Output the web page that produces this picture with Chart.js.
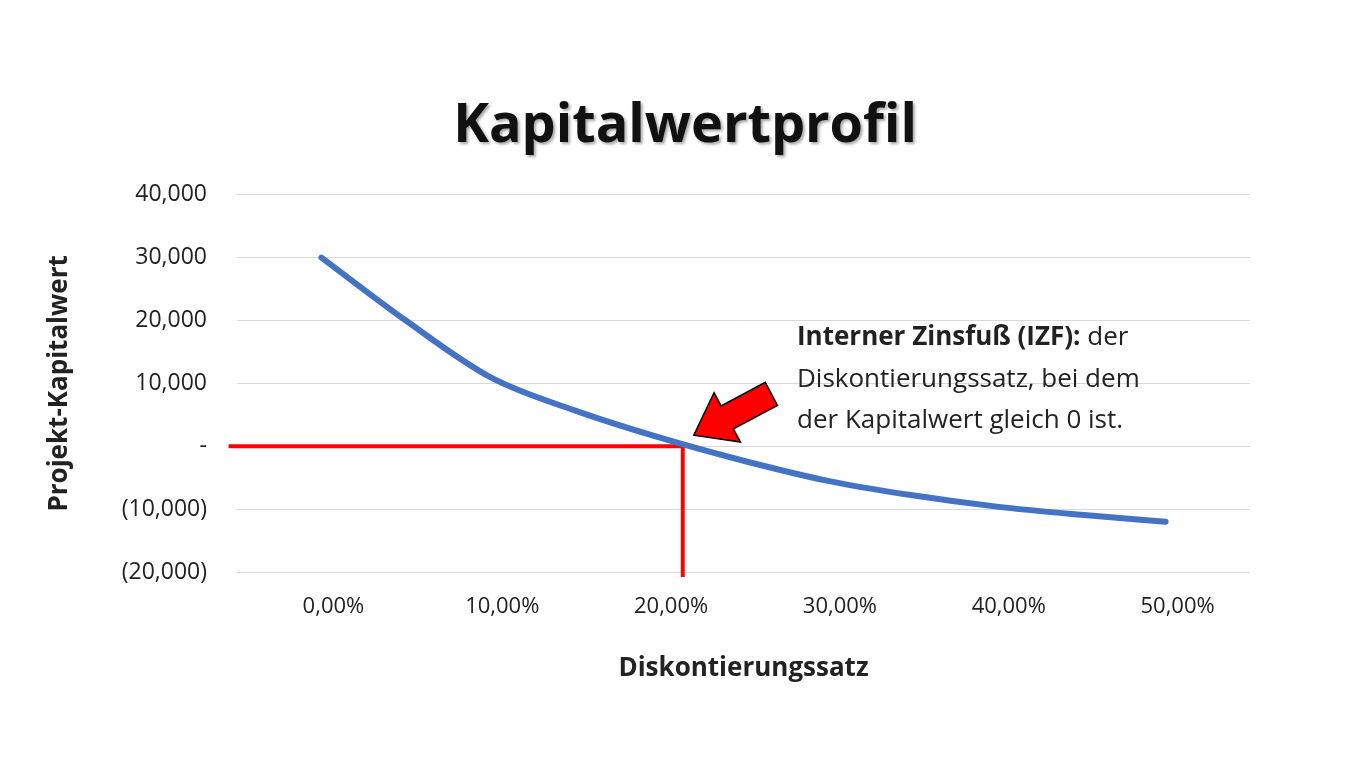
<!DOCTYPE html>
<html><head><meta charset="utf-8">
<script src="https://cdn.jsdelivr.net/npm/chart.js@4"></script>
<style>html,body{margin:0;padding:0;background:#fff}#w{width:1365px;height:768px}</style>
</head><body><div id="w"><canvas id="c"></canvas></div>
<script>
const rates = [0,5,10,15,20,25,30,35,40,45,50];
const npv = [30000,20000,11000,5700,1400,-2300,-5500,-7800,-9600,-10900,-12000];
const izf = 21.4;
const xTicks = [0,10,20,30,40,50];
const titleText = 'Kapitalwertprofil';
const annotationLines = [["Interner Zinsfuß (IZF):"," der"],["","Diskontierungssatz, bei dem"],["","der Kapitalwert gleich 0 ist."]];

const F = "'Open Sans','Noto Sans',sans-serif";
const overlay = {
  id:'overlay',
  afterDraw(ch){
    const x = ch.scales.x, y = ch.scales.y, c = ch.ctx;
    const tx = x.getPixelForValue(izf)+11, ty = y.getPixelForValue(0)-11;
    c.save();
    c.translate(tx,ty);
    c.rotate(Math.atan2(-40,75));
    c.beginPath();
    c.moveTo(0,0);c.lineTo(38,-28);c.lineTo(38,-13);c.lineTo(88,-13);c.lineTo(88,13);c.lineTo(38,13);c.lineTo(38,28);c.closePath();
    c.fillStyle='#ff0000';c.fill();c.lineWidth=1.5;c.strokeStyle='#000';c.stroke();
    c.restore();
    c.save();
    c.fillStyle='#222';c.textBaseline='middle';
    const ys=[338,380,421];
    annotationLines.forEach((l,i)=>{
      c.font="bold 26px "+F;c.fillText(l[0],797,ys[i]);
      const w=c.measureText(l[0]).width;
      c.font="26px "+F;c.fillText(l[1],797+w,ys[i]);
    });
    c.font="bold 54px "+F;c.textAlign='center';c.fillStyle='#111';
    c.shadowColor='rgba(0,0,0,0.35)';c.shadowBlur=3;c.shadowOffsetX=2;c.shadowOffsetY=2;
    c.fillText(titleText,685,127);
    c.restore();
  }
};
new Chart(document.getElementById('c'),{
  type:'line',
  data:{datasets:[
    {data:rates.map((r,i)=>({x:r,y:npv[i]})),borderColor:'#4472c4',borderWidth:6,cubicInterpolationMode:'monotone',pointRadius:0,borderCapStyle:'round'},
    {data:[{x:-5.5,y:0},{x:izf,y:0},{x:izf,y:-20800}],borderColor:'#ff0000',borderWidth:4,pointRadius:0,tension:0}
  ]},
  options:{responsive:true,maintainAspectRatio:false,animation:false,clip:false,
    layout:{padding:{left:40,right:115,top:0,bottom:80}},
    plugins:{legend:{display:false},tooltip:{enabled:false},
      title:{display:true,text:titleText,color:'rgba(0,0,0,0)',font:{family:F,size:54,weight:'bold'},padding:{top:95,bottom:35}}},
    scales:{
      x:{type:'linear',min:-5,max:55,grid:{display:false},border:{display:false},
        afterBuildTicks(a){a.ticks=xTicks.map(v=>({value:v}));},
        afterFit(a){a.height=116;},
        ticks:{color:'#222',font:{family:F,size:22},padding:14,labelOffset:12,callback:v=>v.toFixed(2).replace('.',',')+'%'},
        title:{display:true,text:'Diskontierungssatz',color:'#222',font:{family:F,size:26,weight:'bold'},padding:{top:10}}},
      y:{min:-20000,max:40000,grid:{color:'#d9d9d9',drawTicks:false},border:{display:false},
        afterFit(a){a.width=197;},
        ticks:{stepSize:10000,color:'#222',padding:30,font:{family:F,size:23},
          callback:v=>v===0?'-':(v<0?'('+Math.abs(v).toLocaleString('en-US')+')':v.toLocaleString('en-US'))},
        title:{display:true,text:'Projekt-Kapitalwert',color:'#222',font:{family:F,size:26,weight:'bold'}}}
    }},
  plugins:[overlay]
});
</script></body></html>
